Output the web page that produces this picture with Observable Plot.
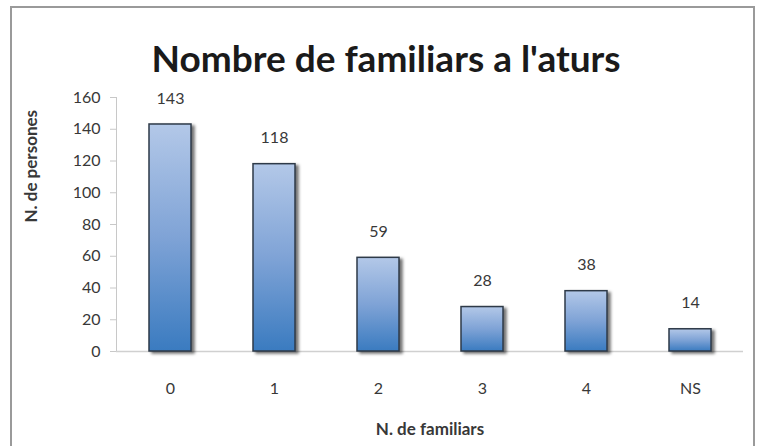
<!DOCTYPE html>
<html>
<head>
<meta charset="utf-8">
<script src="https://cdn.jsdelivr.net/npm/d3@7"></script>
<script src="https://cdn.jsdelivr.net/npm/@observablehq/plot@0.6"></script>
<style>
  html, body { margin: 0; padding: 0; background: #fff; }
  #wrap { position: relative; width: 757px; height: 446px; overflow: hidden; }
  #border { position: absolute; left: 10px; top: 6px; width: 745px; height: 460px;
            border: 2px solid #9a9a9a; box-sizing: border-box; }
  #chart { position: absolute; left: 0; top: 0; }
  .bars rect { filter: drop-shadow(3px 2px 1.5px rgba(0,0,0,0.55)); }
</style>
</head>
<body>
<div id="wrap"><div id="border"></div><div id="chart"></div></div>
<script>
const title = "Nombre de familiars a l'aturs";
const xTitle = "N. de familiars";
const yTitle = "N. de persones";
const categories = ["0", "1", "2", "3", "4", "NS"];
const values = [143, 118, 59, 28, 38, 14];
const yTicks = [0, 20, 40, 60, 80, 100, 120, 140, 160];

const data = categories.map((c, i) => ({cat: c, value: values[i]}));
const font = "Lato, 'Open Sans', sans-serif";

const chart = Plot.plot({
  width: 757,
  height: 446,
  marginTop: 97,
  marginBottom: 95,
  marginLeft: 116,
  marginRight: 14,
  style: {fontFamily: font, background: "transparent", color: "#404040"},
  x: {domain: categories, paddingInner: 0.6, paddingOuter: 0.3, label: null},
  y: {domain: [0, 160], label: null},
  marks: [
    Plot.frame({anchor: "left", stroke: "#c8c8c8"}),
    Plot.ruleY([0], {stroke: "#d0d0d0", strokeWidth: 1.5}),
    Plot.axisY({ticks: yTicks, tickSize: 6, tickPadding: 10, fontSize: 16, fill: "#383838", stroke: "#c8c8c8", label: null}),
    Plot.axisX({tickSize: 0, tickPadding: 31, fontSize: 16, fill: "#383838", label: null}),
    Plot.barY(data, {x: "cat", y: "value", fill: "url(#barGrad)", stroke: "#2e3a48", strokeWidth: 1.5, className: "bars"}),
    Plot.text(data, {x: "cat", y: "value", text: d => String(d.value), dy: -26, fontSize: 16, fill: "#383838"}),
    Plot.text([title], {frameAnchor: "top", dx: -44, dy: -52, fontSize: 37, fontWeight: "bold", fill: "#1a1a1a"}),
    Plot.text([xTitle], {frameAnchor: "bottom", dy: 83, fontSize: 17, fontWeight: "bold", fill: "#383838"}),
    Plot.text([yTitle], {frameAnchor: "left", dx: -85, dy: -2, rotate: -90, fontSize: 17, fontWeight: "bold", fill: "#383838"})
  ]
});

const svg = d3.select(chart);
const defs = svg.insert("defs", ":first-child");
const g = defs.append("linearGradient").attr("id", "barGrad")
  .attr("x1", 0).attr("y1", 0).attr("x2", 0).attr("y2", 1);
g.append("stop").attr("offset", "0%").attr("stop-color", "#b3c8e8");
g.append("stop").attr("offset", "50%").attr("stop-color", "#7fa3d6");
g.append("stop").attr("offset", "100%").attr("stop-color", "#3a7bc0");

document.getElementById("chart").appendChild(chart);
</script>
</body>
</html>
